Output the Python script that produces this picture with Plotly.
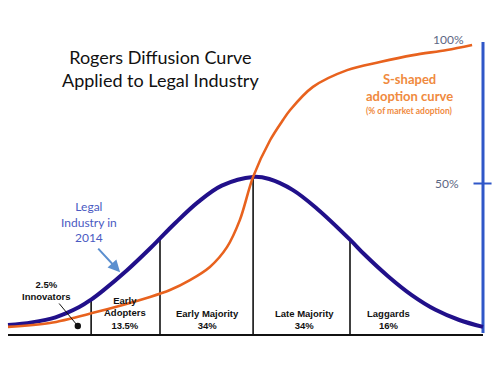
import plotly.graph_objects as go
import numpy as np

# --- data (x: adoption timeline 0-100, y: % scale 0-100) ---
bell_x = [0, 5, 10, 15, 17.5, 20, 25, 30, 32, 35, 40, 45, 51.6, 55, 60, 65, 72, 75, 80, 85, 90, 95, 100]
bell_y = [3.3, 4.2, 5.9, 9.3, 11.8, 14.8, 21.5, 29.0, 32.2, 37.0, 44.3, 49.8, 52.7, 52.0, 48.3, 42.2, 31.8, 26.9, 19.6, 13.3, 8.4, 5.0, 2.7]

scurve_x = [0, 8.8, 17.7, 29.9, 34.1, 38.3, 42.5, 46.1, 48.8, 51.6, 55.2, 57.9, 59.4, 64.2, 71.4, 78.3, 85.3, 92.4, 97.7]
scurve_y = [2.7, 4.0, 7.3, 12.7, 15.0, 18.3, 22.7, 29.3, 38.3, 52.7, 65.0, 71.7, 75.0, 82.7, 88.3, 91.0, 93.3, 95.0, 96.7]

boundaries = [17.5, 32, 51.6, 72]
segments = ["Innovators", "Early\nAdopters", "Early Majority", "Late Majority", "Laggards"]
shares = ["2.5%", "13.5%", "34%", "34%", "16%"]
axis_ticks = [50.5, 97.7]
axis_labels = ["50%", "100%"]

NAVY = "#21108a"
ORANGE = "#e8621e"
AXBLUE = "#2f57c8"

fig = go.Figure()

# baseline
fig.add_trace(go.Scatter(x=[0, 100], y=[0, 0], mode="lines",
                         line=dict(color="#111111", width=2), hoverinfo="skip"))

# vertical boundary lines up to the bell curve
vx, vy = [], []
for b in boundaries:
    vx += [b, b, None]
    vy += [0, float(np.interp(b, bell_x, bell_y)), None]
fig.add_trace(go.Scatter(x=vx, y=vy, mode="lines",
                         line=dict(color="#111111", width=1.6), hoverinfo="skip"))

# right-hand % axis
fig.add_trace(go.Scatter(x=[100, 100], y=[0.7, axis_ticks[1]], mode="lines",
                         line=dict(color=AXBLUE, width=3), hoverinfo="skip"))
fig.add_trace(go.Scatter(x=[98.0, 101.8], y=[axis_ticks[0], axis_ticks[0]], mode="lines",
                         line=dict(color=AXBLUE, width=2), hoverinfo="skip"))

# bell curve
fig.add_trace(go.Scatter(x=bell_x, y=bell_y, mode="lines", line_shape="spline",
                         line=dict(color=NAVY, width=4, smoothing=1), hoverinfo="skip"))
# S-curve
fig.add_trace(go.Scatter(x=scurve_x, y=scurve_y, mode="lines", line_shape="spline",
                         line=dict(color=ORANGE, width=2.6, smoothing=0.9), hoverinfo="skip"))

ann = []
# title
ann.append(dict(x=32.0, y=88.8, text="Rogers Diffusion Curve<br>Applied to Legal Industry",
                showarrow=False, font=dict(family="Lato", size=18, color="#111111"),
                xanchor="center", yanchor="middle"))
# S-curve label
ann.append(dict(x=84.6, y=82.4, text="<b>S-shaped<br>adoption curve</b>", showarrow=False,
                font=dict(family="Lato", size=13, color="#f08a3e"), xanchor="center", yanchor="middle"))
ann.append(dict(x=84.6, y=74.7, text="<b>(% of market adoption)</b>", showarrow=False,
                font=dict(family="Lato", size=8.5, color="#f08a3e"), xanchor="center", yanchor="middle"))
# axis labels
ann.append(dict(x=92.4, y=axis_ticks[0], text=axis_labels[0], showarrow=False,
                font=dict(family="Lato", size=12, color="#5c6784"), xanchor="center", yanchor="middle"))
ann.append(dict(x=92.8, y=98.6, text=axis_labels[1], showarrow=False,
                font=dict(family="Lato", size=12, color="#5c6784"), xanchor="center", yanchor="middle"))
# legal industry label + arrow
ann.append(dict(x=17.1, y=37.7, text="Legal<br>Industry in<br>2014", showarrow=False,
                font=dict(family="Lato", size=12, color="#4a5ac2"), xanchor="center", yanchor="middle"))
ann.append(dict(x=23.6, y=20.9, ax=18.7, ay=29.3, axref="x", ayref="y", text="",
                showarrow=True, arrowhead=2, arrowsize=1.2, arrowwidth=2, arrowcolor="#5b8fcf"))
# innovators pointer
ann.append(dict(x=14.7, y=3.0, ax=10.5, ay=11.0, axref="x", ayref="y", text="",
                showarrow=True, arrowhead=6, arrowsize=1.6, arrowwidth=1, arrowcolor="#111111"))

# segment labels
seg_pos = [(8.2, 14.8), (24.6, 7.3), (41.9, 5.3), (62.5, 5.3), (80.2, 5.3)]
for i, (name, sh) in enumerate(zip(segments, shares)):
    if i == 0:
        txt = f"<b>{sh}<br>{name}</b>"
    else:
        txt = "<b>" + name.replace("\n", "<br>") + "<br>" + sh + "</b>"
    x, y = seg_pos[i]
    ann.append(dict(x=x, y=y, text=txt, showarrow=False,
                    font=dict(family="Liberation Sans", size=9.5, color="#111111"),
                    xanchor="center", yanchor="middle"))

fig.update_layout(
    width=500, height=375,
    margin=dict(l=0, r=0, t=0, b=0),
    paper_bgcolor="white", plot_bgcolor="white",
    showlegend=False,
    xaxis=dict(range=[-8 / 4.75, 492 / 4.75], visible=False, fixedrange=True),
    yaxis=dict(range=[-40 / 3, 335 / 3], visible=False, fixedrange=True),
    annotations=ann,
)

fig.write_html("out.html", config={"displayModeBar": False},
               post_script="document.body.style.margin='0';")
